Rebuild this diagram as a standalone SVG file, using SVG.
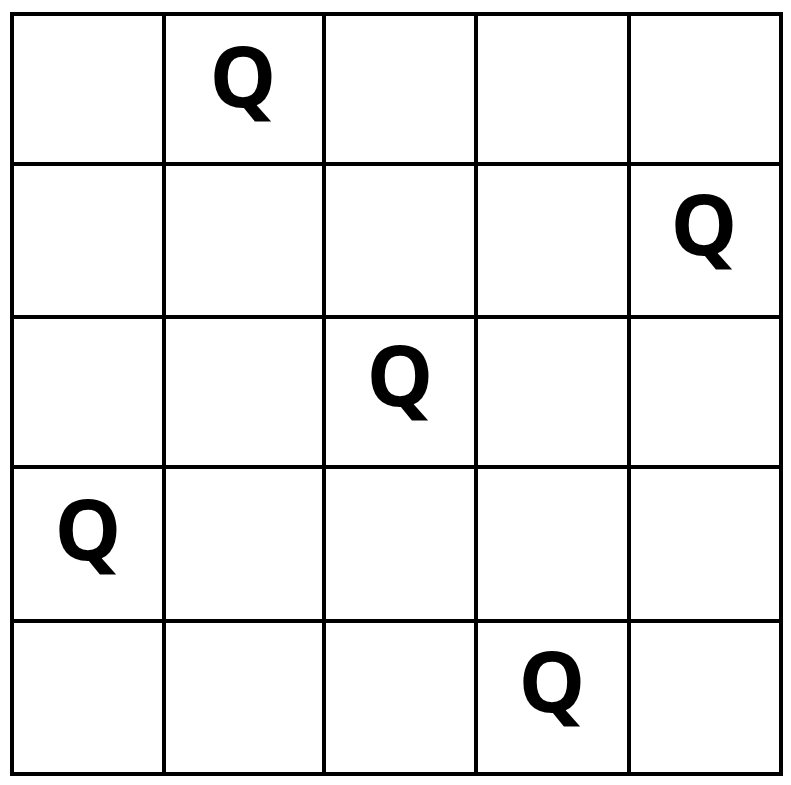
<svg xmlns="http://www.w3.org/2000/svg" width="791" height="785" viewBox="0 0 791 785">
<style>
.grid{stroke:#000;stroke-width:4;fill:none;stroke-linecap:square}
.q{font-family:"Open Sans","Noto Sans",sans-serif;font-weight:700;font-size:84px;fill:#000;text-anchor:middle}
</style>
<rect width="791" height="785" fill="#fff"/>
<g id="board">
<rect class="grid" x="12" y="14" width="769" height="760"/>
<line class="grid" x1="164" y1="14" x2="164" y2="774"/>
<line class="grid" x1="324" y1="14" x2="324" y2="774"/>
<line class="grid" x1="476" y1="14" x2="476" y2="774"/>
<line class="grid" x1="629" y1="14" x2="629" y2="774"/>
<line class="grid" x1="12" y1="164" x2="781" y2="164"/>
<line class="grid" x1="12" y1="317" x2="781" y2="317"/>
<line class="grid" x1="12" y1="467" x2="781" y2="467"/>
<line class="grid" x1="12" y1="621" x2="781" y2="621"/>
</g>
<g id="q1"><text class="q" x="243" y="107">Q</text></g>
<g id="q2"><text class="q" x="704" y="255">Q</text></g>
<g id="q3"><text class="q" x="400" y="406">Q</text></g>
<g id="q4"><text class="q" x="88" y="560">Q</text></g>
<g id="q5"><text class="q" x="552" y="712">Q</text></g>
</svg>
